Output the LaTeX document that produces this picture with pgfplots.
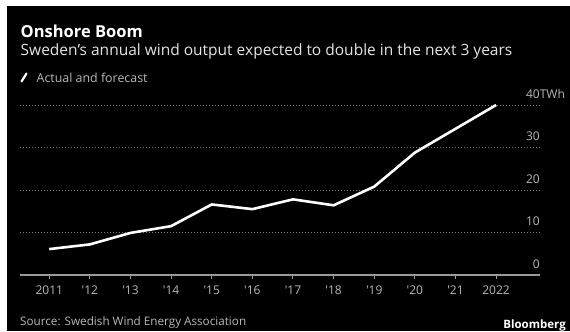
\documentclass[border=0pt]{standalone}
\usepackage{fontspec}
\setmainfont{Open Sans}
\usepackage{pgfplots}
\pgfplotsset{compat=1.18}
\definecolor{axisgray}{HTML}{9A9A9A}
\definecolor{gridgray}{HTML}{7A7A7A}
\definecolor{labelgray}{HTML}{B8B8B8}
\definecolor{subgray}{HTML}{E4E4E4}
\begin{document}
\begin{tikzpicture}[x=1pt,y=1pt]
\fill[white] (0,0) rectangle (570,331);
\fill[black] (7,0) rectangle (570,325);
\node[anchor=base west, inner sep=0pt, text=white, font=\fontsize{16.5}{19}\selectfont\bfseries] at (20.5,294) {Onshore Boom};
\node[anchor=base west, inner sep=0pt, text=subgray, font=\fontsize{15.5}{18}\selectfont] at (20.5,276) {Sweden's annual wind output expected to double in the next 3 years};
\draw[white, line width=2.2pt, line cap=round] (21.5,249.5) -- (26.5,257.5);
\node[anchor=base west, inner sep=0pt, text=labelgray, font=\fontsize{12.4}{14}\selectfont] at (36.5,249) {Actual and forecast};
\node[anchor=base west, inner sep=0pt, text=labelgray, font=\fontsize{11.7}{14}\selectfont] at (20,6) {Source: Swedish Wind Energy Association};
\node[anchor=base east, inner sep=0pt, text=white, font=\fontsize{11.5}{14}\selectfont\bfseries] at (566,2.5) {Bloomberg};
\begin{axis}[
  at={(20pt,56pt)}, anchor=south west,
  scale only axis, width=520pt, height=170pt,
  xmin=2010.28, xmax=2023.08, ymin=0, ymax=40,
  axis x line*=bottom, axis y line*=right,
  y axis line style={draw=none},
  x axis line style={draw=axisgray, line width=1.3pt, -},
  xtick={2011,...,2022},
  xticklabels={2011,\textquotesingle12,\textquotesingle13,\textquotesingle14,\textquotesingle15,\textquotesingle16,\textquotesingle17,\textquotesingle18,\textquotesingle19,\textquotesingle20,\textquotesingle21,2022},
  xtick align=outside,
  major x tick style={draw=axisgray, line width=1pt},
  major tick length=4pt,
  ytick={0,10,20,30,40},
  ytick style={draw=none},
  ymajorgrids,
  grid style={gridgray, line width=1pt, dash pattern=on 1pt off 2pt},
  yticklabels={0,10,20,30,40\rlap{TWh}},
  yticklabel style={anchor=south east, inner sep=0pt, yshift=6.5pt, font=\fontsize{12}{14}\selectfont, text=labelgray},
  xticklabel style={anchor=north, inner sep=0pt, yshift=-7pt, font=\fontsize{12}{14}\selectfont, text=labelgray},
  clip=false,
]
\addplot[white, line width=2.6pt, line join=round] coordinates {
(2011,6.1) (2012,7.2) (2013,9.9) (2014,11.5) (2015,16.6) (2016,15.5)
(2017,17.8) (2018,16.4) (2019,20.8) (2020,28.8) (2021,34.4) (2022,40.0)};
\end{axis}
\end{tikzpicture}
\end{document}
